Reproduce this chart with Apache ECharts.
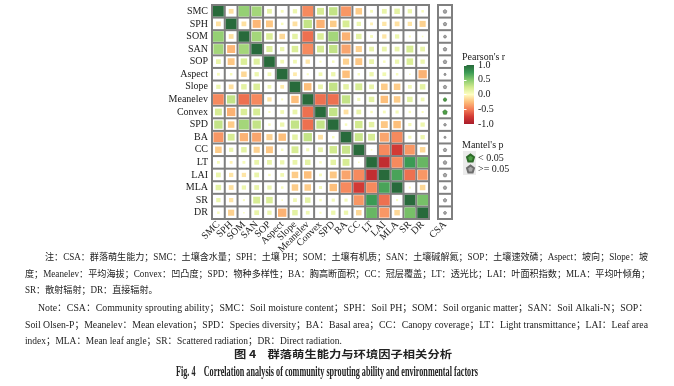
<!DOCTYPE html>
<html><head><meta charset="utf-8">
<script src="https://cdn.jsdelivr.net/npm/echarts@6/dist/echarts.min.js"></script>
<style>html,body{margin:0;padding:0;background:#fff}#c{width:674px;height:386px}</style>
</head><body><div id="c"></div>
<script>
// ---------- data ----------
const vars = ['SMC','SPH','SOM','SAN','SOP','Aspect','Slope','Meanelev','Convex','SPD','BA','CC','LT','LAI','MLA','SR','DR'];
// upper-triangle Pearson's r, row i holds columns i+1 .. 16
const rSMC      = [-0.12, 0.45, 0.40, 0.12, 0.05, 0.10, -0.45, 0.22, 0.30, -0.40, -0.20, 0.05, 0.12, 0.15, 0.10, 0.04];
const rSPH      = [-0.12, -0.28, -0.22, 0.04, -0.12, 0.30, -0.30, -0.20, 0.22, 0.10, -0.05, -0.10, -0.12, -0.10, -0.18];
const rSOM      = [0.40, 0.20, -0.15, 0.15, -0.55, 0.20, 0.40, -0.30, 0.15, 0.05, -0.10, 0.10, 0.03, 0.02];
const rSAN      = [0.18, 0.10, 0.20, -0.45, 0.22, 0.30, -0.35, -0.18, 0.12, 0.12, 0.12, 0.22, 0.12];
const rSOP      = [0.08, 0.08, -0.10, 0.03, 0.04, -0.18, -0.22, 0.12, 0.04, 0.10, 0.20, 0.10];
const rAspect   = [-0.08, 0.03, 0.08, 0.10, -0.25, 0.04, 0.10, 0.08, 0.04, 0.02, -0.30];
const rSlope    = [-0.25, 0.12, 0.30, 0.15, 0.22, 0.12, -0.20, -0.20, 0.08, 0.15];
const rMeanelev = [-0.55, -0.55, 0.30, 0.06, 0.15, -0.25, -0.20, 0.15, 0.08];
const rConvex   = [0.30, -0.12, 0.12, 0.04, 0.05, 0.06, 0.04, 0.03];
const rSPD      = [0.04, 0.25, 0.15, -0.22, -0.25, 0.06, 0.10];
const rBA       = [0.28, 0.22, -0.35, -0.45, 0.06, 0.10];
const rCC       = [0.02, -0.45, -0.75, -0.40, -0.15];
const rLT       = [-0.85, -0.45, 0.75, 0.60];
const rLAI      = [0.70, -0.55, -0.40];
const rMLA      = [0.03, -0.15];
const rSR       = [0.55];
const upperRows = [rSMC, rSPH, rSOM, rSAN, rSOP, rAspect, rSlope, rMeanelev, rConvex, rSPD, rBA, rCC, rLT, rLAI, rMLA, rSR];

const mantelCol = ['CSA'];
const mantelR = [0.22, 0.20, 0.15, 0.22, 0.22, 0.08, 0.20, 0.20, 0.30, 0.12, 0.08, 0.20, 0.22, 0.22, 0.20, 0.20, 0.15];
const mantelP = [0.30, 0.40, 0.60, 0.30, 0.30, 0.80, 0.40, 0.04, 0.01, 0.60, 0.80, 0.40, 0.30, 0.30, 0.40, 0.40, 0.60];
const pLabels = ['< 0.05', '>= 0.05'];

const noteCn = [
  '注：CSA：群落萌生能力；SMC：土壤含水量；SPH：土壤 PH；SOM：土壤有机质；SAN：土壤碱解氮；SOP：土壤速效磷；Aspect：坡向；Slope：坡',
  '度；Meanelev：平均海拔；Convex：凹凸度；SPD：物种多样性；BA：胸高断面积；CC：冠层覆盖；LT：透光比；LAI：叶面积指数；MLA：平均叶倾角；',
  'SR：散射辐射；DR：直接辐射。'
];
const noteEn = [
  'Note：CSA：Community sprouting ability；SMC：Soil moisture content；SPH：Soil PH；SOM：Soil organic matter；SAN：Soil Alkali-N；SOP：',
  'Soil Olsen-P；Meanelev：Mean elevation；SPD：Species diversity；BA：Basal area；CC：Canopy coverage；LT：Light transmittance；LAI：Leaf area',
  'index；MLA：Mean leaf angle；SR：Scattered radiation；DR：Direct radiation.'
];
const figCn = '图 4    群落萌生能力与环境因子相关分析';
const figEn = 'Fig. 4    Correlation analysis of community sprouting ability and environmental factors';

// ---------- build ----------
const cells = [];
vars.forEach((v, i) => {
  cells.push([i, i, 1]);
  (upperRows[i] || []).forEach((r, k) => {
    const j = i + 1 + k;
    cells.push([j, i, r]);
    cells.push([i, j, r]);
  });
});

const stops = [
  [-1, [168, 28, 42]], [-0.75, [210, 58, 53]], [-0.5, [244, 125, 87]], [-0.25, [253, 191, 123]],
  [0, [254, 254, 194]], [0.25, [210, 234, 142]], [0.5, [134, 201, 109]], [0.75, [58, 154, 84]], [1, [40, 106, 59]]
];
function colorOf(r) {
  for (let k = 0; k < stops.length - 1; k++) {
    const [a, ca] = stops[k], [b, cb] = stops[k + 1];
    if (r >= a && r <= b) {
      const t = (r - a) / (b - a);
      const c = ca.map((x, m) => Math.round(x + (cb[m] - x) * t));
      return 'rgb(' + c.join(',') + ')';
    }
  }
  return r < 0 ? 'rgb(168,28,42)' : 'rgb(40,106,59)';
}

const pent = 'path://M5,0 L10,3.8 L8.1,10 L1.9,10 L0,3.8 Z';
const sigData = [], nsData = [];
mantelR.forEach((r, i) => {
  (mantelP[i] < 0.05 ? sigData : nsData).push([0, i, r]);
});

const serif = '"Liberation Serif","Times New Roman",serif';
const labelStyle = { fontFamily: serif, fontSize: 10, color: '#1a1a1a' };

const measureCtx = document.createElement('canvas').getContext('2d');
function textScale(text, left, right, font) {
  measureCtx.font = font;
  return (right - left) / measureCtx.measureText(text).width;
}
function textEl(text, left, y, font, sx) {
  return { type: 'text', x: left, y: y, scaleX: sx, silent: true,
    style: { text: text, font: font, fill: '#222', align: 'left', verticalAlign: 'middle' } };
}
const cnFont = '9.5px "Liberation Serif","Noto Sans CJK SC"';
const enFont = '10px "Liberation Serif","Noto Sans CJK SC"';
const sCn1 = textScale(noteCn[0], 45, 648, cnFont);
const sCn2 = textScale(noteCn[1], 25, 650, cnFont);
const sEn1 = textScale(noteEn[0], 38, 648, enFont);
const sEn2 = textScale(noteEn[1], 25, 648, enFont);
const sEn3 = textScale(noteEn[2], 25, 277, enFont);
const fCn = 'bold 10.5px "Noto Sans CJK SC"';
const fEn = 'bold 15px "Liberation Serif"';
const graphics = [
  { type: 'rect', x: 463, y: 151, shape: { width: 13, height: 24 }, style: { fill: '#ebebeb' }, z: 0, silent: true },
  textEl(noteCn[0], 45, 257, cnFont, sCn1),
  textEl(noteCn[1], 25, 274, cnFont, sCn2),
  textEl(noteCn[2], 25, 290, cnFont, Math.min(sCn1, sCn2)),
  textEl(noteEn[0], 38, 308, enFont, sEn1),
  textEl(noteEn[1], 25, 325, enFont, sEn2),
  textEl(noteEn[2], 25, 341, enFont, Math.max(sEn3, Math.min(sEn1, sEn2) * 0.97)),
  textEl(figCn, 234, 354, fCn, textScale(figCn, 234, 452, fCn)),
  textEl(figEn, 176, 372, fEn, textScale(figEn, 176, 478, fEn))
];

function sideFrac(r) {
  return Math.min(1, 1.6 * Math.pow(Math.abs(r), 0.6));
}
function renderCell(params, api) {
  const c = api.coord([api.value(0), api.value(1)]);
  const s = api.size([1, 1]);
  const w = s[0], h = s[1];
  const r = api.value(2);
  const iw = w - 2, ih = h - 2;
  const k = sideFrac(r);
  return { type: 'group', children: [
    { type: 'rect', shape: { x: c[0] - iw / 2, y: c[1] - ih / 2, width: iw, height: ih }, style: { fill: '#fff' } },
    { type: 'rect', shape: { x: c[0] - iw * k / 2, y: c[1] - ih * k / 2, width: iw * k, height: ih * k }, style: { fill: colorOf(r) } }
  ]};
}
function renderBlank(params, api) {
  const c = api.coord([api.value(0), api.value(1)]);
  const s = api.size([1, 1]);
  return { type: 'rect', shape: { x: c[0] - s[0] / 2 + 1, y: c[1] - s[1] / 2 + 1, width: s[0] - 2, height: s[1] - 2 }, style: { fill: '#fff' } };
}
function renderBar(params, api) {
  const tl = api.coord([0, 1]), br = api.coord([1, -1]);
  return { type: 'rect', shape: { x: tl[0], y: tl[1], width: br[0] - tl[0], height: br[1] - tl[1] },
    style: { fill: { type: 'linear', x: 0, y: 0, x2: 0, y2: 1,
      colorStops: stops.slice().reverse().map(s => ({ offset: (1 - s[0]) / 2, color: 'rgb(' + s[1].join(',') + ')' })) } } };
}

const chart = echarts.init(document.getElementById('c'), null, { renderer: 'canvas' });
chart.setOption({
  animation: false,
  backgroundColor: '#fff',
  title: [
    { text: "Pearson's r", left: 462, top: 52, padding: 0, textStyle: { fontFamily: serif, fontSize: 10, fontWeight: 'normal', color: '#1a1a1a' } },
    { text: "Mantel's p", left: 462, top: 140, padding: 0, textStyle: { fontFamily: serif, fontSize: 10, fontWeight: 'normal', color: '#1a1a1a' } }
  ],
  legend: {
    orient: 'vertical', left: 466, top: 153, padding: 0, itemWidth: 7, itemHeight: 7, itemGap: 1,
    textStyle: { fontFamily: serif, fontSize: 10, color: '#1a1a1a', padding: [0, 0, 0, -1] },
    data: [{ name: pLabels[0], icon: pent }, { name: pLabels[1], icon: pent }]
  },
  graphic: graphics,
  grid: [
    { left: 212, top: 5, width: 217, height: 214, show: true, backgroundColor: '#7f7f7f', borderColor: '#7f7f7f', borderWidth: 2 },
    { left: 438, top: 5, width: 14, height: 214, show: true, backgroundColor: '#7f7f7f', borderColor: '#7f7f7f', borderWidth: 2 },
    { left: 464, top: 65, width: 10, height: 59, show: false }
  ],
  xAxis: [
    { type: 'category', gridIndex: 0, data: vars, axisLine: { show: false }, axisTick: { show: false }, splitLine: { show: false },
      axisLabel: Object.assign({ rotate: 45, margin: 4, interval: 0 }, labelStyle) },
    { type: 'category', gridIndex: 1, data: mantelCol, axisLine: { show: false }, axisTick: { show: false },
      axisLabel: Object.assign({ rotate: 45, margin: 4 }, labelStyle) },
    { type: 'value', gridIndex: 2, min: 0, max: 1, show: false }
  ],
  yAxis: [
    { type: 'category', gridIndex: 0, data: vars, inverse: true, axisLine: { show: false }, axisTick: { show: false }, splitLine: { show: false },
      axisLabel: Object.assign({ margin: 4, interval: 0, padding: [2, 0, 0, 0] }, labelStyle) },
    { type: 'category', gridIndex: 1, data: vars, inverse: true, axisLine: { show: false }, axisTick: { show: false }, axisLabel: { show: false } },
    { type: 'value', gridIndex: 2, position: 'right', min: -1, max: 1, interval: 0.5, z: 10,
      axisLine: { show: false }, splitLine: { show: false },
      axisTick: { show: true, inside: true, length: 2.5, lineStyle: { color: '#fff', width: 1 } },
      axisLabel: Object.assign({ margin: 4, formatter: v => v.toFixed(1) }, labelStyle) },
    { type: 'value', gridIndex: 2, position: 'left', min: -1, max: 1, interval: 0.5, z: 10,
      axisLine: { show: false }, splitLine: { show: false },
      axisTick: { show: true, inside: true, length: 2.5, lineStyle: { color: '#fff', width: 1 } },
      axisLabel: { show: false } }
  ],
  series: [
    { type: 'custom', xAxisIndex: 0, yAxisIndex: 0, renderItem: renderCell, data: cells, silent: true },
    { type: 'custom', xAxisIndex: 1, yAxisIndex: 1, renderItem: renderBlank, data: vars.map((v, i) => [0, i]), silent: true },
    { type: 'custom', xAxisIndex: 2, yAxisIndex: 2, renderItem: renderBar, data: [[0, 0]], silent: true },
    { name: pLabels[0], type: 'scatter', xAxisIndex: 1, yAxisIndex: 1, symbol: pent, z: 5,
      symbolSize: v => 1.5 + v[2] * 10, data: sigData,
      itemStyle: { color: '#4ea046', borderColor: '#2f6b2a', borderWidth: 0.6, opacity: 1 } },
    { name: pLabels[1], type: 'scatter', xAxisIndex: 1, yAxisIndex: 1, symbol: pent, z: 5,
      symbolSize: v => 1.5 + v[2] * 10, data: nsData,
      itemStyle: { color: '#a8a8a8', borderColor: '#6e6e6e', borderWidth: 0.6, opacity: 1 } }
  ]
});
</script></body></html>
